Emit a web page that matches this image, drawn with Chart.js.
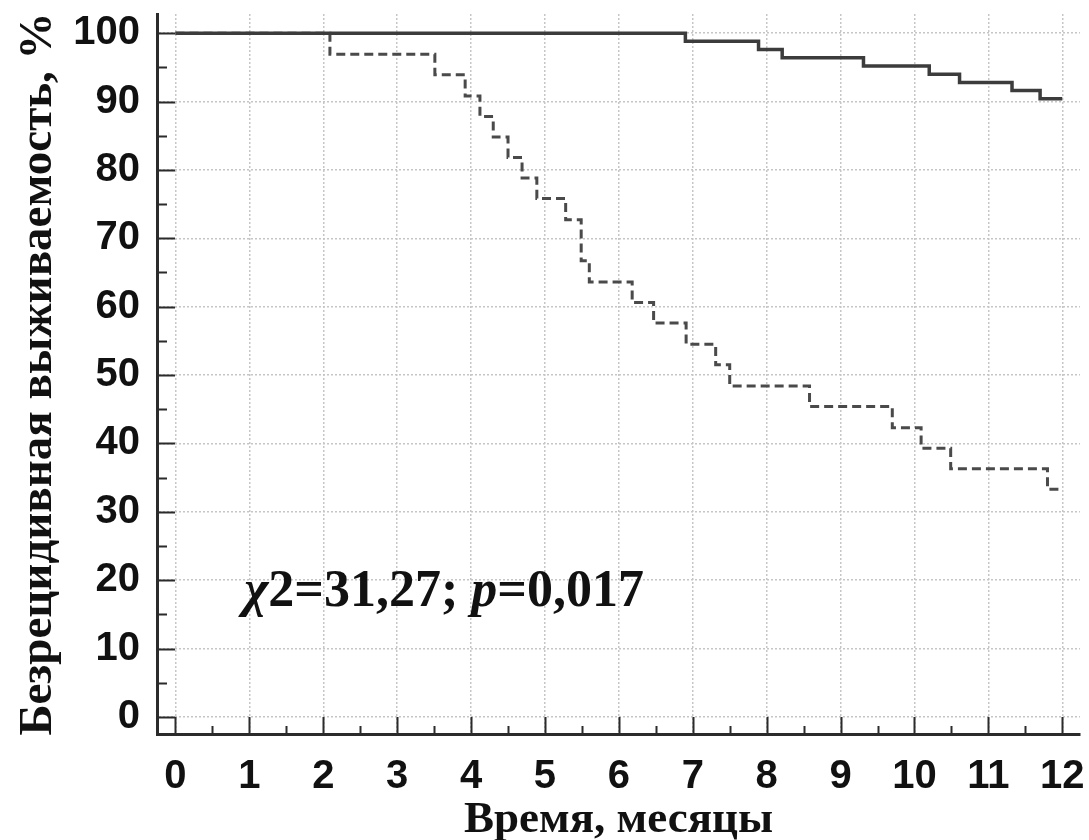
<!DOCTYPE html>
<html>
<head>
<meta charset="utf-8">
<script src="https://cdn.jsdelivr.net/npm/chart.js@4"></script>
<style>
  body { margin: 0; background: #fff; }
  #wrap { width: 1089px; height: 840px; }
</style>
</head>
<body>
<div id="wrap"><canvas id="survival" width="1089" height="840"></canvas></div>
<script>
// Kaplan-Meier curves, relapse-free survival (%), months
var solidX = [0, 6.90, 7.89, 8.21, 9.31, 10.20, 10.61, 11.32, 11.70, 12.0];
var solidY = [100, 98.8, 97.6, 96.4, 95.2, 94.0, 92.8, 91.6, 90.4, 90.4];

var dashedX = [0, 2.09, 3.51, 3.92, 4.12, 4.30, 4.50, 4.69, 4.89, 5.28, 5.49, 5.60,
               6.18, 6.47, 6.91, 7.31, 7.50, 8.58, 9.70, 10.09, 10.49, 11.80, 12.0];
var dashedY = [100, 96.9, 93.9, 90.8, 87.8, 84.8, 81.8, 78.8, 75.8, 72.7, 66.7, 63.6,
               60.6, 57.6, 54.5, 51.5, 48.4, 45.4, 42.3, 39.3, 36.3, 33.3, 33.3];

var xTicks = [0, 1, 2, 3, 4, 5, 6, 7, 8, 9, 10, 11, 12];
var yTicks = [0, 10, 20, 30, 40, 50, 60, 70, 80, 90, 100];

var xTitle = 'Время, месяцы';
var yTitle = 'Безрецидивная выживаемость, %';
var statParts = [['χ', true], ['2=31,27; ', false], ['p', true], ['=0,017', false]];
var statPos = { x: 0.93, y: 16.2 };

function toPoints(xs, ys) {
  var pts = [];
  for (var i = 0; i < xs.length; i++) pts.push({ x: xs[i], y: ys[i] });
  return pts;
}

// axis ticks point into the plot, major + half-step minor
var inwardTicks = {
  id: 'inwardTicks',
  afterDatasetsDraw: function(chart) {
    var c = chart.ctx, a = chart.chartArea;
    var sx = chart.scales.x, sy = chart.scales.y;
    c.save();
    c.strokeStyle = '#2b2b2b';
    c.lineWidth = 2;
    c.beginPath();
    for (var i = 0; i < xTicks.length; i++) {
      var px = Math.round(sx.getPixelForValue(xTicks[i])) + 0.5;
      c.moveTo(px, a.bottom); c.lineTo(px, a.bottom - 17);
      if (i < xTicks.length - 1) {
        var pm = Math.round(sx.getPixelForValue((xTicks[i] + xTicks[i + 1]) / 2)) + 0.5;
        c.moveTo(pm, a.bottom); c.lineTo(pm, a.bottom - 8);
      }
    }
    for (var j = 0; j < yTicks.length; j++) {
      var py = Math.round(sy.getPixelForValue(yTicks[j])) + 0.5;
      c.moveTo(a.left, py); c.lineTo(a.left + 18, py);
      if (j < yTicks.length - 1) {
        var qm = Math.round(sy.getPixelForValue((yTicks[j] + yTicks[j + 1]) / 2)) + 0.5;
        c.moveTo(a.left, qm); c.lineTo(a.left + 10, qm);
      }
    }
    c.stroke();

    // log-rank result
    var tx = sx.getPixelForValue(statPos.x);
    var ty = sy.getPixelForValue(statPos.y);
    c.fillStyle = '#111';
    c.textBaseline = 'alphabetic';
    for (var k = 0; k < statParts.length; k++) {
      c.font = (statParts[k][1] ? 'italic ' : '') + 'bold 52px "Liberation Serif"';
      c.fillText(statParts[k][0], tx, ty);
      tx += c.measureText(statParts[k][0]).width;
    }
    c.restore();
  }
};

var tickFont = { family: 'Liberation Sans', size: 40, weight: 'bold' };
var gridOpts = { color: '#c6c6c6', lineWidth: 1.5, drawTicks: false };
var borderOpts = { color: '#2b2b2b', width: 3, dash: [2, 2] };

new Chart(document.getElementById('survival'), {
  type: 'line',
  data: {
    datasets: [{
      data: toPoints(solidX, solidY),
      borderColor: '#3c3c3c',
      borderWidth: 3.5,
      stepped: 'before',
      pointRadius: 0,
      fill: false
    }, {
      data: toPoints(dashedX, dashedY),
      borderColor: '#4a4a4a',
      borderWidth: 3,
      borderDash: [9, 5],
      stepped: 'before',
      pointRadius: 0,
      fill: false
    }]
  },
  options: {
    responsive: false,
    animation: false,
    layout: { padding: { top: 14, right: 9, left: 0, bottom: 0 } },
    plugins: { legend: { display: false }, tooltip: { enabled: false } },
    scales: {
      x: {
        type: 'linear',
        min: -0.25,
        max: 12.24,
        afterBuildTicks: function(s) { s.ticks = xTicks.map(function(v) { return { value: v }; }); },
        afterFit: function(s) { s.height = 106; s.paddingLeft = 0; s.paddingRight = 0; },
        grid: gridOpts,
        border: borderOpts,
        ticks: {
          font: tickFont, color: '#111', padding: 19, maxRotation: 0, autoSkip: false,
          callback: function(v) { return String(v); }
        },
        title: {
          display: true, text: xTitle, color: '#111',
          font: { family: 'Liberation Serif', size: 45, weight: 'bold', lineHeight: 1 },
          padding: { top: 0, bottom: -3 }
        }
      },
      y: {
        type: 'linear',
        min: -2.5,
        max: 102.8,
        afterBuildTicks: function(s) { s.ticks = yTicks.map(function(v) { return { value: v }; }); },
        afterFit: function(s) { s.width = 157; s.paddingTop = 0; s.paddingBottom = 0; },
        grid: gridOpts,
        border: borderOpts,
        ticks: {
          font: tickFont, color: '#111', padding: 17, autoSkip: false,
          callback: function(v) { return String(v); }
        },
        title: {
          display: true, text: yTitle, color: '#111',
          font: { family: 'Liberation Serif', size: 47, weight: 'bold', lineHeight: 1 },
          padding: { top: 15, bottom: 0 }
        }
      }
    }
  },
  plugins: [inwardTicks]
});
</script>
</body>
</html>
